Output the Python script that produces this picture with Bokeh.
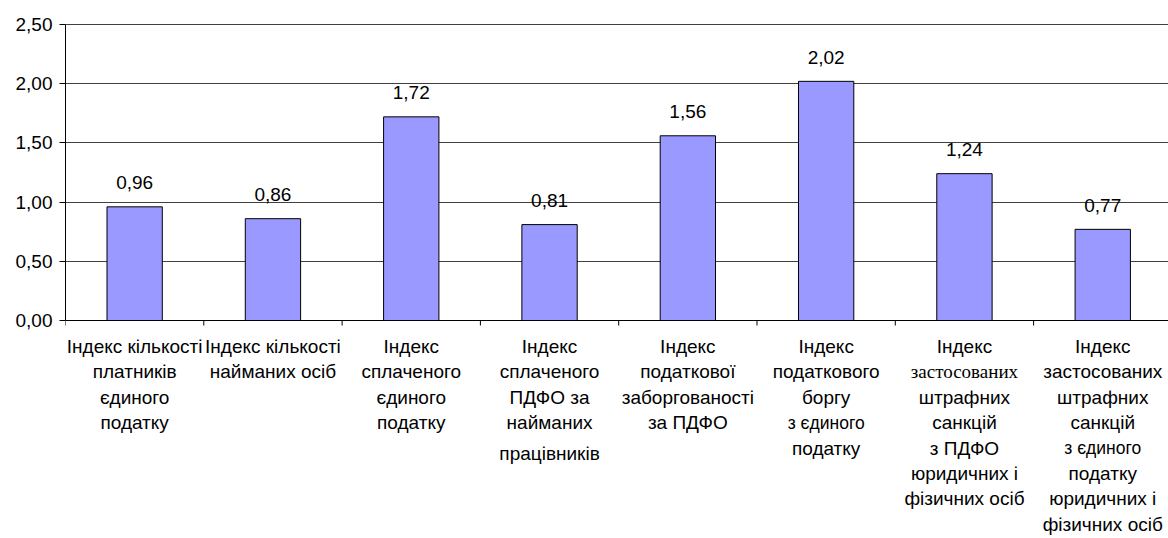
from bokeh.plotting import figure
from bokeh.models import Range1d, FixedTicker, CustomJSTickFormatter, ColumnDataSource
from bokeh.core.properties import value
from bokeh.embed import file_html
from bokeh.resources import INLINE

# ---------------- data ----------------
categories = [
    ["Індекс кількості", "платників", "єдиного", "податку"],
    ["Індекс кількості", "найманих осіб"],
    ["Індекс", "сплаченого", "єдиного", "податку"],
    ["Індекс", "сплаченого", "ПДФО за", "найманих", "працівників"],
    ["Індекс", "податкової", "заборгованості", "за ПДФО"],
    ["Індекс", "податкового", "боргу", "з єдиного", "податку"],
    ["Індекс", "застосованих", "штрафних", "санкцій", "з ПДФО", "юридичних і", "фізичних осіб"],
    ["Індекс", "застосованих", "штрафних", "санкцій", "з єдиного", "податку", "юридичних і", "фізичних осіб"],
]
values = [0.96, 0.86, 1.72, 0.81, 1.56, 2.02, 1.24, 0.77]
value_labels = ["0,96", "0,86", "1,72", "0,81", "1,56", "2,02", "1,24", "0,77"]
y_ticks = [0.0, 0.5, 1.0, 1.5, 2.0, 2.5]
y_tick_labels = ["0,00", "0,50", "1,00", "1,50", "2,00", "2,50"]

# ---------------- styles ----------------
SANS = "Liberation Sans"
SERIF = "Liberation Serif"
special_fonts = {(6, 1): SERIF}
special_sizes = {(5, 3): "17.5px", (7, 4): "17.5px"}
extra_gap = {(3, 4): 5}

W, H = 1168, 538
left = 65
px_per_unit = 118.4
zero_px = 320
cat_px = 138.3
first_line = 26
line_step = 25.4
tick_len = 5

x_end = (W - left) / cat_px
y_end = zero_px / px_per_unit
y_start = -(H - zero_px) / px_per_unit

p = figure(width=W, height=H, x_range=Range1d(0, x_end), y_range=Range1d(y_start, y_end),
           x_axis_location=None, y_axis_location="left",
           toolbar_location=None, output_backend="svg",
           min_border_left=left, min_border_right=0, min_border_top=0, min_border_bottom=0)
p.outline_line_color = None
p.background_fill_color = "white"
p.border_fill_color = "white"

ya = p.yaxis[0]
ya.ticker = FixedTicker(ticks=y_ticks)
ya.bounds = (y_ticks[0], y_ticks[-1])
ya.formatter = CustomJSTickFormatter(
    args=dict(yt=y_ticks, yl=y_tick_labels),
    code="const i = yt.findIndex(t => Math.abs(t - tick) < 1e-9); return i >= 0 ? yl[i] : '';")
ya.major_tick_out = 6
ya.major_tick_in = 0
ya.minor_tick_out = 0
ya.minor_tick_in = 0
ya.axis_line_color = "black"
ya.major_tick_line_color = "black"
ya.major_label_text_font = SANS
ya.major_label_text_font_size = "19px"
ya.major_label_text_color = "black"
ya.major_label_standoff = 7

p.ygrid.ticker = FixedTicker(ticks=y_ticks)
p.ygrid.grid_line_color = "#404040"
p.ygrid.grid_line_width = 1
p.xgrid.visible = False

n = len(categories)
centers = [i + 0.5 for i in range(n)]
bounds_x = list(range(n + 1))

p.vbar(x=centers, top=values, bottom=0, width=0.4, fill_color="#9999FF",
       line_color="black", line_width=1)

# category axis: baseline and boundary ticks
p.segment(x0=[0], y0=[0], x1=[x_end], y1=[0], line_color="black", line_width=1)
p.segment(x0=bounds_x, y0=[0] * (n + 1), x1=bounds_x, y1=[-tick_len / px_per_unit] * (n + 1),
          line_color="black", line_width=1)

p.text(x=centers, y=values, text=value_labels, text_align="center", text_baseline="alphabetic",
       y_offset=-24, text_font=value(SANS), text_font_size="19px", text_color="black")

xs, ys, yo, txt, fonts, sizes = [], [], [], [], [], []
for i, lines in enumerate(categories):
    for j, line in enumerate(lines):
        xs.append(centers[i])
        ys.append(0)
        yo.append(first_line + j * line_step + extra_gap.get((i, j), 0))
        txt.append(line)
        fonts.append(special_fonts.get((i, j), SANS))
        sizes.append(special_sizes.get((i, j), "19px"))
src = ColumnDataSource(dict(x=xs, y=ys, yo=yo, text=txt, font=fonts, size=sizes))
p.text(source=src, x="x", y="y", text="text", y_offset="yo", text_font="font",
       text_font_size="size", text_align="center", text_baseline="middle", text_color="black")

open("out.html", "w").write(file_html(p, INLINE))
